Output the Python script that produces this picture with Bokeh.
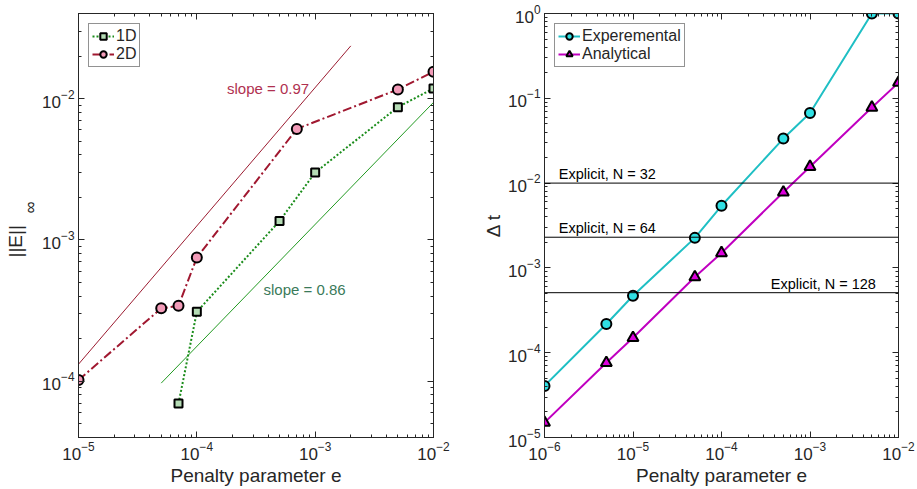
import math
from bokeh.plotting import figure
from bokeh.models import LogAxis, Legend, LegendItem, Span, Title, Range1d
from bokeh.layouts import row
from bokeh.embed import file_html
from bokeh.resources import INLINE
from bokeh.core.properties import value

# ---------------- Left panel data ----------------
e_1d = [7e-5, 1e-4, 5e-4, 1e-3, 5e-3, 1e-2]
err_1d = [6.95e-5, 3.1e-4, 1.36e-3, 3.0e-3, 8.7e-3, 1.18e-2]
e_2d = [1e-5, 5e-5, 7e-5, 1e-4, 7e-4, 5e-3, 1e-2]
err_2d = [1.02e-4, 3.28e-4, 3.42e-4, 7.5e-4, 6.1e-3, 1.16e-2, 1.55e-2]
slope97_x = [1e-5, 2e-3]
slope97_y = [1.32e-4, 2.36e-2]
slope86_x = [5e-5, 1e-2]
slope86_y = [9.7e-5, 9.4e-3]
slope_labels = ["slope = 0.97", "slope = 0.86"]
slope_label_x = [1.8e-4, 3.66e-4]
slope_label_y = [1.17e-2, 4.47e-4]

# ---------------- Right panel data ----------------
e_dt = [1e-6, 5e-6, 1e-5, 5e-5, 1e-4, 5e-4, 1e-3, 5e-3, 1e-2]
dt_exp = [4.06e-5, 2.18e-4, 4.7e-4, 2.26e-3, 5.4e-3, 3.35e-2, 6.7e-2, 1.0, 1.0]
dt_ana = [1.5e-5, 7.6e-5, 1.5e-4, 7.8e-4, 1.5e-3, 7.8e-3, 1.56e-2, 7.8e-2, 0.153]
explicit_dt = [1e-2, 2.3e-3, 5.1e-4]
explicit_labels = ["Explicit, N = 32", "Explicit, N = 64", "Explicit, N = 128"]
explicit_label_x = [1.45e-6, 1.45e-6, 3.6e-4]

FONT = "Liberation Sans"
AX = "#262626"


def style_axis(ax, labels=True):
    ax.axis_line_color = AX
    ax.major_tick_line_color = AX
    ax.minor_tick_line_color = AX
    ax.major_tick_in = 6
    ax.major_tick_out = 0
    ax.minor_tick_in = 3
    ax.minor_tick_out = 0
    ax.major_label_text_font = FONT
    ax.major_label_text_color = AX
    ax.axis_label_text_font = FONT
    ax.axis_label_text_font_style = "normal"
    ax.axis_label_text_color = AX
    ax.axis_label_text_font_size = "19px"
    if labels:
        ax.major_label_text_font_size = "17px"
        ax.major_label_standoff = 4
    else:
        ax.major_label_text_font_size = "1px"
        ax.major_label_text_alpha = 0
        ax.major_label_standoff = 0


def mirror(p):
    top = LogAxis(ticker=p.xaxis[0].ticker)
    right = LogAxis(ticker=p.yaxis[0].ticker)
    style_axis(top, labels=False)
    style_axis(right, labels=False)
    p.add_layout(top, "above")
    p.add_layout(right, "right")


def make_legend(items):
    return Legend(items=items, location="top_left", margin=10, padding=3, spacing=0,
                  label_text_font=FONT, label_text_font_size="16px", label_text_color=AX,
                  label_height=16, glyph_height=16, glyph_width=22, label_standoff=2,
                  border_line_color=AX, border_line_width=1, background_fill_alpha=1)


# ---------------- Left figure ----------------
p1 = figure(width=460, height=488, x_axis_type="log", y_axis_type="log",
            x_range=Range1d(1e-5, 1e-2), y_range=Range1d(4e-5, 4e-2),
            output_backend="svg", toolbar_location=None,
            min_border_left=78, min_border_right=27, min_border_top=13, min_border_bottom=51)
p1.grid.visible = False
p1.outline_line_color = AX
p1.background_fill_color = "white"
for ax in p1.xaxis + p1.yaxis:
    style_axis(ax)
p1.xaxis.axis_label = "Penalty parameter e"
p1.xaxis.axis_label_standoff = 2
mirror(p1)

# y label ||E||_inf as two vertical titles on the left side
p1.add_layout(Title(text="∞", align="left", offset=224, standoff=0,
                    text_font=FONT, text_font_size="17px", text_font_style="normal",
                    text_color=AX), "left")
p1.add_layout(Title(text="||E||", align="left", offset=180, standoff=-14,
                    text_font=FONT, text_font_size="19px", text_font_style="normal",
                    text_color=AX), "left")

p1.line(slope97_x, slope97_y, line_color="#9b1b30", line_width=1)
p1.line(slope86_x, slope86_y, line_color="#229a22", line_width=1)

l1 = p1.line(e_1d, err_1d, line_color="#1a8c1a", line_width=2, line_dash="2 2")
s1 = p1.scatter(e_1d, err_1d, marker="square", size=8, fill_color="#b5dcb5",
                line_color="black", line_width=2)
l2 = p1.line(e_2d, err_2d, line_color="#a01830", line_width=2, line_dash="9 3 2 3")
s2 = p1.scatter(e_2d, err_2d, marker="circle", size=10, fill_color="#f29bb8",
                line_color="black", line_width=2)

p1.text(x=slope_label_x[:1], y=slope_label_y[:1], text=slope_labels[:1],
        text_font=value(FONT), text_font_size="15px", text_color="#b03050",
        text_baseline="middle", text_align="left")
p1.text(x=slope_label_x[1:], y=slope_label_y[1:], text=slope_labels[1:],
        text_font=value(FONT), text_font_size="15px", text_color="#3a7a5a",
        text_baseline="middle", text_align="left")

p1.add_layout(make_legend([LegendItem(label="1D", renderers=[l1, s1]),
                           LegendItem(label="2D", renderers=[l2, s2])]))

# ---------------- Right figure ----------------
p2 = figure(width=457, height=488, x_axis_type="log", y_axis_type="log",
            x_range=Range1d(1e-6, 1e-2), y_range=Range1d(1e-5, 1),
            output_backend="svg", toolbar_location=None,
            min_border_left=84, min_border_right=19, min_border_top=13, min_border_bottom=51)
p2.grid.visible = False
p2.outline_line_color = AX
p2.background_fill_color = "white"
for ax in p2.xaxis + p2.yaxis:
    style_axis(ax)
p2.xaxis.axis_label = "Penalty parameter e"
p2.xaxis.axis_label_standoff = 2
p2.yaxis.axis_label = "Δ t"
p2.yaxis.axis_label_text_font_size = "19px"
p2.yaxis.axis_label_standoff = 1
mirror(p2)

for v in explicit_dt:
    p2.add_layout(Span(location=v, dimension="width", line_color="black", line_width=1))
p2.text(x=explicit_label_x, y=explicit_dt, text=explicit_labels,
        text_font=value(FONT), text_font_size="14.5px", text_color="black",
        text_baseline="bottom", text_align="left", y_offset=-1)

l3 = p2.line(e_dt, dt_exp, line_color="#1fbfc4", line_width=2)
s3 = p2.scatter(e_dt, dt_exp, marker="circle", size=10, fill_color="#30e0e4",
                line_color="black", line_width=2)
l4 = p2.line(e_dt, dt_ana, line_color="#c000c0", line_width=2)
s4 = p2.scatter(e_dt, dt_ana, marker="triangle", size=11, fill_color="#dd00dd",
                line_color="black", line_width=2)

p2.add_layout(make_legend([LegendItem(label="Experemental", renderers=[l3, s3]),
                           LegendItem(label="Analytical", renderers=[l4, s4])]))

layout = row(p1, p2)
open("out.html", "w").write(file_html(layout, INLINE))
